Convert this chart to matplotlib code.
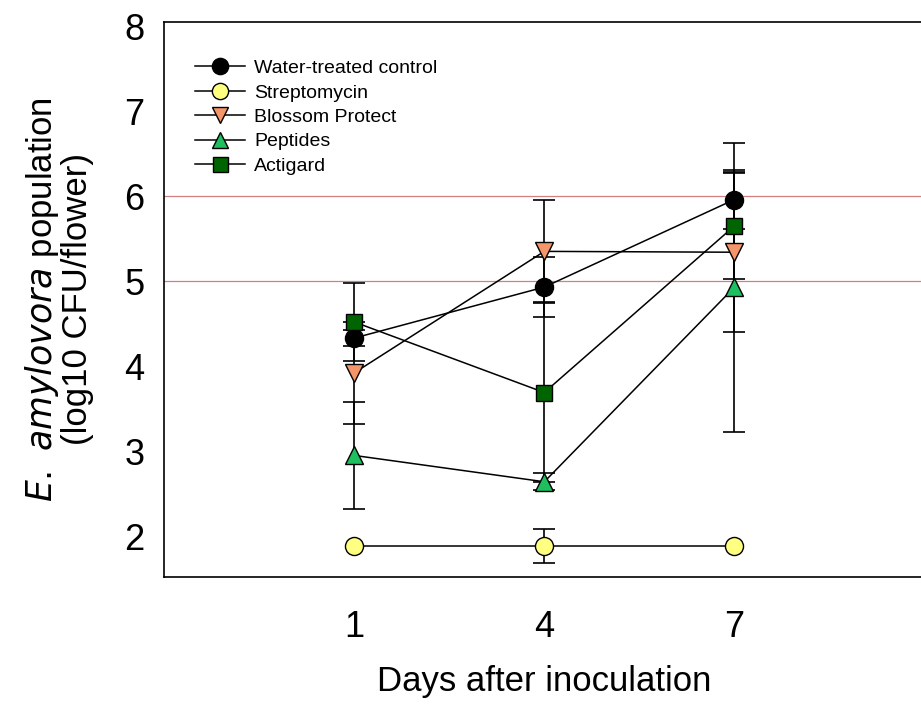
import matplotlib.pyplot as plt
import numpy as np

plt.rcParams['font.family'] = ['Liberation Sans', 'DejaVu Sans']

# Data
days = [1, 4, 7]
labels = ['Water-treated control', 'Streptomycin', 'Blossom Protect', 'Peptides', 'Actigard']

water = [4.33, 4.93, 5.96]
water_err = [0.09, 0.35, 0.35]
strep = [1.88, 1.88, 1.88]
strep_err = [np.nan, 0.20, np.nan]
blossom = [3.92, 5.35, 5.34]
blossom_err = [0.60, 0.60, 0.94]
peptides = [2.95, 2.64, 4.93]
peptides_err = [0.63, 0.10, 1.70]
actigard = [4.52, 3.69, 5.65]
actigard_err = [0.46, 1.05, 0.62]

series = [water, strep, blossom, peptides, actigard]
errors = [water_err, strep_err, blossom_err, peptides_err, actigard_err]
markers = ['o', 'o', 'v', '^', 's']
colors = ['black', '#ffff80', '#f4956a', '#1fbf5f', '#006400']
msizes = [13, 13, 13, 13, 12]

fig = plt.figure(figsize=(9.21, 7.04), dpi=100)
ax = fig.add_axes([0.178, 0.1804, 0.826, 0.7886])

# reference lines
ax.axhline(5, color='#d08080', lw=0.9, zorder=1)
ax.axhline(6, color='#d08080', lw=0.9, zorder=1)

# error bars first, then lines and markers on top
for y, e in zip(series, errors):
    e = np.array(e, dtype=float)
    keep = ~np.isnan(e)
    ax.errorbar(np.array(days)[keep], np.array(y)[keep], yerr=e[keep], fmt='none',
                ecolor='black', elinewidth=1.2, capsize=8, capthick=1.2, zorder=2)

for y, m, c, ms, lab in zip(series, markers, colors, msizes, labels):
    ax.plot(days, y, color='black', lw=1.1, marker=m, markersize=ms,
            markerfacecolor=c, markeredgecolor='black', markeredgewidth=1.0,
            label=lab, zorder=3)

ax.set_xlim(-2, 10)
ax.set_ylim(1.52, 8.05)
ax.set_xticks(days)
ax.set_yticks([2, 3, 4, 5, 6, 7, 8])
ax.tick_params(axis='both', length=0, labelsize=26)
ax.tick_params(axis='x', pad=24)
ax.tick_params(axis='y', pad=14)

for s in ['left', 'bottom', 'top', 'right']:
    ax.spines[s].set_linewidth(1.2)

ax.set_xlabel('Days after inoculation', fontsize=25, labelpad=14)
ax.set_ylabel('$\\it{E.\\ amylovora}$ population\n(log10 CFU/flower)', fontsize=25,
              labelpad=22, linespacing=1.0)

leg = ax.legend(loc='upper left', bbox_to_anchor=(0.02, 0.96), frameon=False,
                fontsize=14, markerscale=0.9, handlelength=2.6, handletextpad=0.45,
                labelspacing=0.35, borderpad=0.3)

fig.savefig('out.png', dpi=100)
